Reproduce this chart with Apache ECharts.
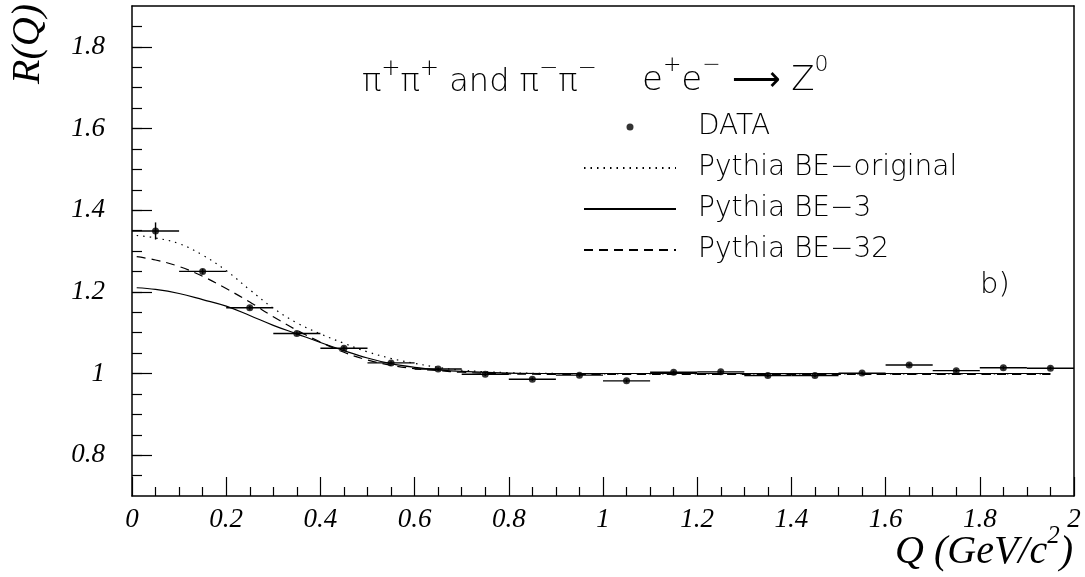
<!DOCTYPE html>
<html>
<head>
<meta charset="utf-8">
<script src="https://cdn.jsdelivr.net/npm/echarts@6/dist/echarts.min.js"></script>
<style>
  html, body { margin: 0; padding: 0; background: #fff; }
  #chart { width: 1085px; height: 577px; }
</style>
</head>
<body>
<div id="chart"></div>
<script>
// measured points, Q bin centres
const qData = [0.05, 0.15, 0.25, 0.35, 0.45, 0.55, 0.65, 0.75, 0.85, 0.95,
               1.05, 1.15, 1.25, 1.35, 1.45, 1.55, 1.65, 1.75, 1.85, 1.95];
const rData = [1.349, 1.250, 1.161, 1.098, 1.062, 1.026, 1.011, 0.998, 0.986, 0.996,
               0.982, 1.003, 1.004, 0.995, 0.995, 1.001, 1.021, 1.007, 1.014, 1.013];
const rErr  = [0.021, 0.006, 0.005, 0.005, 0.005, 0.004, 0.004, 0.004, 0.004, 0.004,
               0.004, 0.004, 0.004, 0.004, 0.004, 0.004, 0.004, 0.004, 0.004, 0.004];
const qHalfBin = 0.05;

// model curves
const qCurve = [0.01, 0.05, 0.1, 0.15, 0.2, 0.25, 0.3, 0.35, 0.4, 0.45, 0.5, 0.55,
                0.6, 0.65, 0.7, 0.8, 0.9, 1.0, 1.2, 1.4, 1.6, 1.8, 1.95];
const rOriginal = [1.338, 1.332, 1.318, 1.290, 1.252, 1.205, 1.160, 1.124, 1.097, 1.074, 1.053, 1.037,
                   1.025, 1.015, 1.008, 1.002, 1.000, 0.999, 0.999, 0.999, 0.999, 0.999, 0.999];
const rBE3 = [1.210, 1.206, 1.196, 1.181, 1.165, 1.142, 1.118, 1.097, 1.076, 1.056, 1.038, 1.024,
              1.015, 1.009, 1.005, 1.001, 1.000, 1.000, 1.000, 1.000, 1.000, 1.000, 1.000];
const rBE32 = [1.286, 1.278, 1.262, 1.238, 1.208, 1.175, 1.139, 1.106, 1.077, 1.052, 1.033, 1.020,
               1.012, 1.007, 1.003, 0.999, 0.998, 0.998, 0.998, 0.998, 0.998, 0.998, 0.998];

const yMajor = [0.8, 1, 1.2, 1.4, 1.6, 1.8];
const yMinor = [0.75, 0.8, 0.85, 0.9, 0.95, 1, 1.05, 1.1, 1.15, 1.2, 1.25, 1.3, 1.35, 1.4,
                1.45, 1.5, 1.55, 1.6, 1.65, 1.7, 1.75, 1.8, 1.85];

const chart = echarts.init(document.getElementById('chart'));

const pairs = (xs, ys) => xs.map((x, i) => [x, ys[i]]);
const serif = 'Liberation Serif';
const sans = 'DejaVu Sans';
const noSymbol = { opacity: 0 };

// ROOT-like latex: base glyphs plus raised superscripts
const latexRich = (size, supSize) => ({
    b: { fontFamily: sans, fontWeight: 200, fontSize: size, lineHeight: size * 1.3,
         verticalAlign: 'bottom', fill: '#000' },
    s: { fontFamily: sans, fontWeight: 200, fontSize: supSize, lineHeight: supSize * 1.2,
         verticalAlign: 'top', fill: '#000' }
});

const option = {
    animation: false,
    backgroundColor: '#fff',
    grid: { left: 132, right: 11, top: 6, bottom: 81 },
    legend: {
        orient: 'vertical',
        left: 578,
        top: 108,
        itemWidth: 92,
        itemHeight: 7,
        itemGap: 13,
        textStyle: {
            fontFamily: sans, fontWeight: 200, fontSize: 28, color: '#000',
            padding: [0, 0, 0, 17]
        },
        data: [
            { name: 'DATA' },
            { name: 'Pythia BE\u2212original', itemStyle: noSymbol },
            { name: 'Pythia BE\u22123', itemStyle: noSymbol },
            { name: 'Pythia BE\u221232', itemStyle: noSymbol }
        ]
    },
    xAxis: [{
        type: 'value', min: 0, max: 2, interval: 0.2,
        axisLine: { lineStyle: { color: '#000', width: 1.5 } },
        axisTick: { inside: true, length: 19, lineStyle: { color: '#000', width: 1.2 } },
        minorTick: { show: true, splitNumber: 4, length: 9, lineStyle: { color: '#000', width: 1.2 } },
        axisLabel: { fontFamily: serif, fontStyle: 'italic', fontSize: 27, color: '#000', margin: 10 },
        splitLine: { show: false }
    }, {
        type: 'value', min: 0, max: 2, position: 'top',
        axisLine: { show: true, onZero: false, lineStyle: { color: '#000', width: 1.5 } },
        axisTick: { show: false }, axisLabel: { show: false }, splitLine: { show: false }
    }],
    yAxis: [{
        type: 'value', min: 0.7, max: 1.9,
        axisLine: { show: true, onZero: false, lineStyle: { color: '#000', width: 1.5 } },
        axisTick: { show: true, inside: true, length: 20, customValues: yMajor,
                    lineStyle: { color: '#000', width: 1.2 } },
        axisLabel: { customValues: yMajor, fontFamily: serif, fontStyle: 'italic',
                     fontSize: 27, color: '#000', margin: 27 },
        splitLine: { show: false }
    }, {
        type: 'value', min: 0.7, max: 1.9, position: 'left',
        axisLine: { show: false },
        axisTick: { show: true, inside: true, length: 10, customValues: yMinor,
                    lineStyle: { color: '#000', width: 1.2 } },
        axisLabel: { show: false }, splitLine: { show: false }
    }, {
        type: 'value', min: 0.7, max: 1.9, position: 'right',
        axisLine: { show: true, onZero: false, lineStyle: { color: '#000', width: 1.5 } },
        axisTick: { show: false }, axisLabel: { show: false }, splitLine: { show: false }
    }],
    series: [{
        name: 'Pythia BE\u2212original',
        type: 'line', smooth: 0.4, symbol: 'none',
        data: pairs(qCurve, rOriginal),
        lineStyle: { color: '#000', width: 1.2, type: [1.5, 5] },
        itemStyle: { color: '#000' }
    }, {
        name: 'Pythia BE\u22123',
        type: 'line', smooth: 0.4, symbol: 'none',
        data: pairs(qCurve, rBE3),
        lineStyle: { color: '#000', width: 1.2 },
        itemStyle: { color: '#000' }
    }, {
        name: 'Pythia BE\u221232',
        type: 'line', smooth: 0.4, symbol: 'none',
        data: pairs(qCurve, rBE32),
        lineStyle: { color: '#000', width: 1.2, type: [9, 6] },
        itemStyle: { color: '#000' }
    }, {
        name: 'errors',
        type: 'custom',
        data: qData.map((q, i) => [q, rData[i], qHalfBin, rErr[i]]),
        renderItem: (params, api) => {
            const x = api.value(0), y = api.value(1), dx = api.value(2), dy = api.value(3);
            const l = api.coord([x - dx, y]), r = api.coord([x + dx, y]);
            const t = api.coord([x, y + dy]), b = api.coord([x, y - dy]);
            const st = { stroke: '#000', lineWidth: 1.4 };
            return {
                type: 'group',
                children: [
                    { type: 'line', shape: { x1: l[0], y1: l[1], x2: r[0], y2: r[1] }, style: st },
                    { type: 'line', shape: { x1: t[0], y1: t[1], x2: b[0], y2: b[1] }, style: st }
                ]
            };
        },
        z: 3
    }, {
        name: 'DATA',
        type: 'scatter', symbol: 'circle', symbolSize: 7,
        data: pairs(qData, rData),
        itemStyle: { color: '#000' },
        z: 4
    }],
    graphic: [{
        type: 'text', x: 28, y: 44, rotation: Math.PI / 2,
        style: {
            text: 'R(Q)', fontFamily: serif, fontStyle: 'italic', fontSize: 40,
            fill: '#000', align: 'center', verticalAlign: 'middle'
        }
    }, {
        type: 'text', x: 1073, y: 548,
        style: {
            text: '{b|Q (GeV/c}{s|2}{b|)}', align: 'right', verticalAlign: 'middle',
            rich: {
                b: { fontFamily: serif, fontStyle: 'italic', fontSize: 40, lineHeight: 48,
                     verticalAlign: 'bottom', fill: '#000' },
                s: { fontFamily: serif, fontStyle: 'italic', fontSize: 25, lineHeight: 28,
                     verticalAlign: 'top', fill: '#000' }
            }
        }
    }, {
        type: 'text', x: 362, y: 78,
        style: {
            text: '{b|\u03c0}{s|+}{b|\u03c0}{s|+}{b| and \u03c0}{s|\u2212}{b|\u03c0}{s|\u2212}',
            align: 'left', verticalAlign: 'middle',
            rich: latexRich(32, 23)
        }
    }, {
        type: 'text', x: 642, y: 76,
        style: {
            text: '{b|e}{s|+}{b|e}{s|\u2212}{b| \u27f6 Z}{s|0}',
            align: 'left', verticalAlign: 'middle',
            rich: latexRich(34, 22)
        }
    }, {
        type: 'text', x: 980, y: 285,
        style: {
            text: 'b)', fontFamily: sans, fontWeight: 200,
            fontSize: 29, fill: '#000', align: 'left', verticalAlign: 'middle'
        }
    }]
};

chart.setOption(option);
</script>
</body>
</html>
